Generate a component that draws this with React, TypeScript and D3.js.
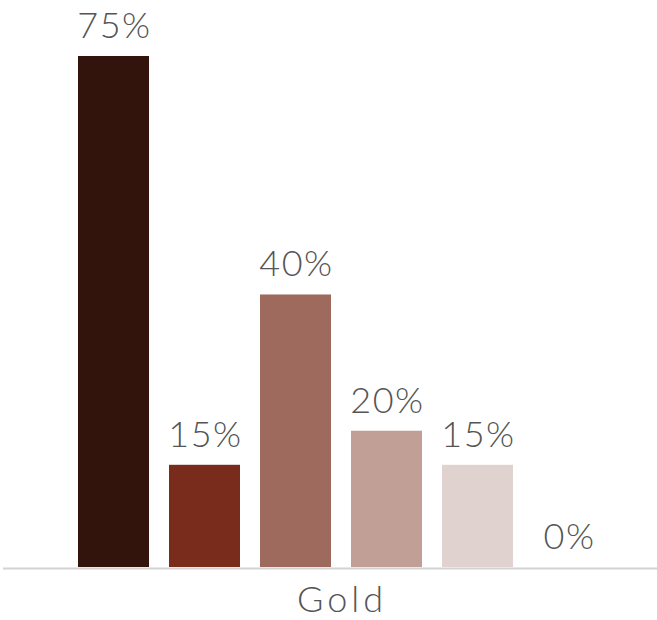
import React from "react";
import * as d3 from "d3";

const categories = ["c1", "c2", "c3", "c4", "c5", "c6"];
const values = [75, 15, 40, 20, 15, 0];
const colors = ["#33140c", "#7a2c1c", "#9e6a5e", "#c29f96", "#e0d3cf", "#f0e8e6"];
const groupLabel = "Gold";

const W = 657;
const H = 620;

export default function App() {
  const x = d3
    .scaleBand<string>()
    .domain(categories)
    .range([68, 614])
    .paddingInner(20 / 91)
    .paddingOuter(10 / 91);
  const y = d3.scaleLinear().domain([0, 75]).range([567, 56]);
  const font = "Lato, 'Open Sans', sans-serif";
  return (
    <svg
      width={W}
      height={H}
      style={{ position: "fixed", left: 0, top: 0, background: "#fff" }}
    >
      <rect width={W} height={H} fill="#fff" />
      {categories.map((c, i) => {
        const bx = x(c)!;
        const by = y(values[i]);
        return (
          <g key={c}>
            {values[i] > 0 && (
              <rect x={bx} y={by} width={x.bandwidth()} height={y(0) - by} fill={colors[i]} />
            )}
            <text
              x={bx + x.bandwidth() / 2 + 1}
              y={by - 18}
              textAnchor="middle"
              fontFamily={font}
              fontSize={36}
              fontWeight={300}
              letterSpacing={1.5}
              fill="#555"
            >
              {values[i]}%
            </text>
          </g>
        );
      })}
      <line x1={3} x2={W} y1={568.5} y2={568.5} stroke="#d2d2d2" strokeWidth={2} />
      <text
        x={342}
        y={612}
        textAnchor="middle"
        fontFamily={font}
        fontSize={36}
        fontWeight={300}
        letterSpacing={4}
        fill="#555"
      >
        {groupLabel}
      </text>
    </svg>
  );
}
